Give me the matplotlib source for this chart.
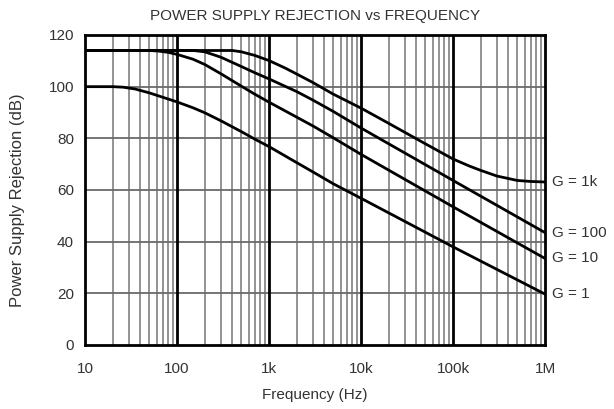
import matplotlib
matplotlib.use("Agg")
import matplotlib.pyplot as plt
from matplotlib.ticker import FixedLocator, NullFormatter

plt.rcParams['font.family'] = ['Liberation Sans', 'DejaVu Sans']

# Data
freq_g1 = [10, 20, 26, 35, 50, 70, 100, 150, 200, 300, 500, 700, 1e3, 2e3, 3e3, 5e3,
           1e4, 1e5, 1e6]
psr_g1 = [100, 100, 99.8, 99.1, 97.6, 95.9, 94.1, 91.8, 89.9, 86.8, 82.6, 79.7, 76.8,
          70.6, 67.0, 62.4, 56.8, 38.0, 19.7]

freq_g10 = [10, 50, 62, 80, 100, 150, 200, 300, 500, 700, 1e3, 2e3, 3e3, 5e3, 1e4,
            1e5, 1e6]
psr_g10 = [114, 114, 113.8, 113.3, 112.5, 110.6, 108.6, 105.0, 100.2, 97.1, 94.0,
           88.2, 84.8, 80.2, 73.8, 53.5, 33.5]

freq_g100 = [10, 150, 200, 300, 500, 700, 1e3, 2e3, 3e3, 5e3, 1e4, 1e5, 1e6]
psr_g100 = [114, 114, 113.5, 111.4, 107.8, 105.4, 103.0, 98.1, 94.8, 90.4, 84.0,
            63.7, 43.5]

freq_g1k = [10, 400, 500, 700, 1e3, 1.5e3, 2e3, 3e3, 5e3, 1e4, 2e4, 5e4, 1e5, 1.5e5,
            2e5, 3e5, 5e5, 7e5, 1e6]
psr_g1k = [114, 114, 113.5, 112.1, 110.1, 107.2, 104.9, 101.6, 97.1, 91.7, 85.8,
           77.9, 72.0, 69.3, 67.6, 65.4, 63.7, 63.3, 63.1]

series = [
    ("G = 1", freq_g1, psr_g1),
    ("G = 10", freq_g10, psr_g10),
    ("G = 100", freq_g100, psr_g100),
    ("G = 1k", freq_g1k, psr_g1k),
]

x_ticks = [10, 100, 1e3, 1e4, 1e5, 1e6]
x_labels = ["10", "100", "1k", "10k", "100k", "1M"]
y_ticks = [0, 20, 40, 60, 80, 100, 120]

TXT = '#333333'
fig = plt.figure(figsize=(6.14, 4.09), dpi=100)
ax = fig.add_axes([85/614, 64/409, 460/614, 310/409])

ax.set_xscale('log')
ax.set_xlim(10, 1e6)
ax.set_ylim(0, 120)

# minor vertical grid
minors = [m * 10**e for e in range(1, 6) for m in range(2, 10)]
for f in minors:
    ax.axvline(f, color='#8a8a8a', lw=1.3, zorder=1)
for f in x_ticks[1:-1]:
    ax.axvline(f, color='black', lw=2.0, zorder=2)
for y in y_ticks[1:-1]:
    ax.axhline(y, color='#6a6a6a', lw=1.3, zorder=1)

for name, f, p in series:
    ax.plot(f, p, color='black', lw=2.0, zorder=3, solid_joinstyle='round')
    ax.text(1.2e6, p[-1], name, ha='left', va='center', fontsize=11, color=TXT,
            clip_on=False)

ax.xaxis.set_major_locator(FixedLocator(x_ticks))
ax.set_xticklabels(x_labels)
ax.xaxis.set_minor_locator(FixedLocator(minors))
ax.xaxis.set_minor_formatter(NullFormatter())
ax.set_yticks(y_ticks)
ax.tick_params(axis='both', which='both', length=0, labelsize=11, colors=TXT)
ax.tick_params(axis='y', pad=8)
ax.tick_params(axis='x', pad=12)

for s in ax.spines.values():
    s.set_linewidth(2.0)
    s.set_color('black')

ax.set_xlabel("Frequency (Hz)", fontsize=11, color=TXT, va='center')
ax.xaxis.set_label_coords(0.5, (345 - 395) / 310)
ax.set_ylabel("Power Supply Rejection (dB)", fontsize=12, color=TXT, va='center')
ax.yaxis.set_label_coords((18 - 85) / 460, (345 - 200) / 310)
ax.set_title("POWER SUPPLY REJECTION vs FREQUENCY", fontsize=11, color=TXT,
             y=(345 - 16) / 310, va='center', pad=0)

fig.savefig("out.png", dpi=100)
